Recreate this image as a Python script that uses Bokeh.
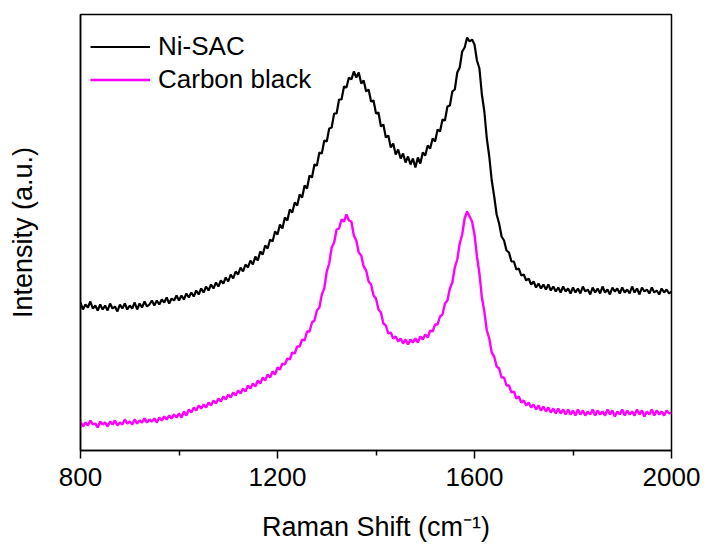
import numpy as np
from bokeh.plotting import figure
from bokeh.models import Range1d, FixedTicker, Legend, LegendItem
from bokeh.embed import file_html
from bokeh.resources import INLINE

# Raman shift grid (cm^-1)
raman_shift = list(range(800, 2001, 5))

# Intensities (a.u.), offset stacked as in the original
ni_sac = [
    148, 141, 146, 143, 149, 142, 145, 140, 146, 141,
    145, 140, 147, 142, 144, 139, 146, 142, 147, 141,
    145, 142, 148, 141, 147, 143, 149, 144, 146, 150,
    145, 150, 146, 151, 148, 153, 147, 152, 150, 155,
    150, 155, 151, 157, 153, 158, 154, 160, 156, 162,
    158, 164, 160, 166, 162, 168, 164, 170, 167, 173,
    169, 176, 172, 179, 176, 183, 179, 186, 183, 190,
    186, 194, 190, 199, 196, 205, 202, 211, 209, 219,
    216, 226, 222, 233, 230, 241, 238, 248, 245, 256,
    253, 265, 262, 275, 273, 286, 285, 298, 297, 310,
    309, 322, 323, 337, 337, 351, 351, 364, 363, 373,
    371, 379, 373, 378, 367, 370, 359, 361, 349, 350,
    337, 338, 324, 326, 313, 315, 303, 307, 296, 301,
    292, 297, 288, 294, 286, 292, 283, 293, 287, 298,
    295, 305, 302, 312, 309, 321, 319, 331, 330, 344,
    345, 359, 361, 378, 383, 399, 403, 413, 409, 411,
    406, 390, 382, 356, 339, 312, 294, 270, 254, 236,
    227, 214, 210, 200, 198, 189, 189, 181, 182, 175,
    176, 170, 172, 166, 169, 163, 167, 162, 166, 161,
    166, 160, 164, 159, 163, 158, 164, 159, 162, 157,
    163, 158, 162, 157, 164, 159, 161, 156, 163, 158,
    162, 157, 164, 158, 161, 156, 163, 159, 162, 157,
    163, 158, 161, 157, 164, 158, 162, 156, 163, 159,
    161, 157, 163, 158, 160, 156, 162, 158, 161, 157,
    159,
]

carbon_black = [
    29, 24, 28, 25, 30, 26, 27, 23, 29, 26,
    28, 24, 29, 26, 30, 25, 28, 26, 31, 27,
    29, 26, 31, 27, 30, 28, 32, 28, 31, 29,
    32, 28, 33, 30, 34, 31, 35, 32, 36, 33,
    37, 33, 39, 35, 41, 38, 43, 40, 45, 42,
    46, 43, 48, 45, 50, 47, 52, 49, 54, 51,
    56, 53, 58, 55, 60, 57, 62, 59, 65, 62,
    67, 64, 70, 67, 73, 70, 76, 73, 79, 76,
    83, 81, 87, 86, 92, 91, 98, 97, 104, 104,
    111, 110, 119, 119, 128, 130, 140, 143, 156, 162,
    179, 187, 203, 208, 221, 222, 231, 229, 236, 230,
    229, 215, 210, 198, 195, 184, 180, 169, 166, 155,
    152, 141, 138, 127, 125, 117, 118, 112, 114, 109,
    112, 107, 111, 106, 111, 108, 112, 108, 114, 111,
    116, 113, 120, 119, 126, 126, 134, 136, 147, 150,
    162, 168, 183, 191, 207, 216, 232, 239, 234, 229,
    216, 194, 177, 153, 139, 120, 112, 98, 94, 84,
    82, 73, 73, 65, 65, 58, 59, 52, 54, 48,
    50, 45, 48, 43, 46, 41, 45, 40, 44, 39,
    43, 38, 42, 37, 42, 37, 41, 36, 41, 36,
    40, 35, 41, 36, 40, 35, 39, 36, 41, 35,
    40, 36, 39, 35, 41, 36, 40, 34, 39, 36,
    41, 35, 40, 36, 39, 35, 41, 36, 40, 34,
    39, 36, 41, 35, 40, 36, 39, 35, 40, 37,
    38,
]

series_names = ["Ni-SAC", "Carbon black"]
series_colors = ["#000000", "#FF00FF"]

x_ticks = [800, 1200, 1600, 2000]
x_minor_ticks = [1000, 1400, 1800]

FONT = "Liberation Sans"

p = figure(
    width=707, height=545,
    x_range=Range1d(800, 2000), y_range=Range1d(0, 436),
    output_backend="svg", toolbar_location=None,
    min_border_left=80, min_border_right=36,
    min_border_top=14, min_border_bottom=95,
)
p.background_fill_color = "white"
p.border_fill_color = "white"
p.grid.visible = False
p.outline_line_color = "black"
p.outline_line_width = 1.5
p.outline_line_alpha = 1.0

r1 = p.line(raman_shift, ni_sac, line_color=series_colors[0], line_width=2.2)
r2 = p.line(raman_shift, carbon_black, line_color=series_colors[1], line_width=2.4)

# x axis
xa = p.xaxis[0]
xa.ticker = FixedTicker(ticks=x_ticks, minor_ticks=x_minor_ticks)
xa.axis_label = "Raman Shift (cm\u207B\u00B9)"
xa.axis_label_text_font = FONT
xa.axis_label_text_font_size = "27px"
xa.axis_label_text_font_style = "normal"
xa.axis_label_text_color = "black"
xa.axis_label_standoff = 23
xa.major_label_text_font = FONT
xa.major_label_text_font_size = "26px"
xa.major_label_text_color = "black"
xa.major_label_standoff = 9
xa.major_tick_out = 8
xa.major_tick_in = 0
xa.minor_tick_out = 5
xa.minor_tick_in = 0
xa.axis_line_width = 1.5
xa.major_tick_line_width = 1.5
xa.minor_tick_line_width = 1.5
xa.axis_line_color = "black"

# y axis
ya = p.yaxis[0]
ya.ticker = FixedTicker(ticks=[], minor_ticks=[])
ya.axis_label = "Intensity (a.u.)"
ya.axis_label_text_font = FONT
ya.axis_label_text_font_size = "27px"
ya.axis_label_text_font_style = "normal"
ya.axis_label_text_color = "black"
ya.axis_label_standoff = 43
ya.major_tick_out = 0
ya.major_tick_in = 0
ya.minor_tick_out = 0
ya.minor_tick_in = 0
ya.axis_line_width = 1.5
ya.axis_line_color = "black"

legend = Legend(
    items=[LegendItem(label=series_names[0], renderers=[r1]),
           LegendItem(label=series_names[1], renderers=[r2])],
    location=(10, 354),
    border_line_color=None,
    background_fill_alpha=0,
    margin=0, padding=10,
    glyph_width=60, glyph_height=33,
    label_height=33, spacing=0,
    label_standoff=8,
    label_text_font=FONT,
    label_text_font_size="26px",
    label_text_color="black",
)
p.add_layout(legend)

open("out.html", "w").write(file_html(p, INLINE))
